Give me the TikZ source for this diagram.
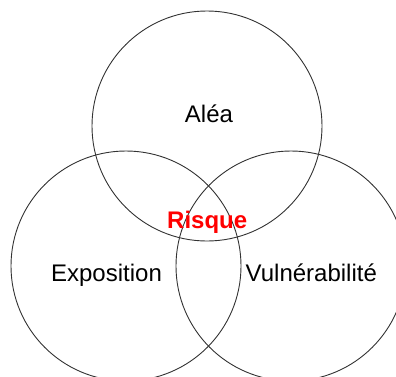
\documentclass[tikz,border=0pt]{standalone}
\usepackage{fontspec}
\setmainfont{Liberation Sans}
\begin{document}
\begin{tikzpicture}[x=1pt,y=-1pt,
  ring/.style={draw=black!80,line width=0.9pt},
  label/.style={anchor=base,inner sep=0pt,font=\fontsize{24}{28}\selectfont},
  core/.style={anchor=base,inner sep=0pt,text=red,font=\fontsize{24}{28}\selectfont\bfseries}]
  \useasboundingbox (0,0) rectangle (396,376);
  \clip (0,0) rectangle (396,376);
  % three overlapping sets
  \draw[ring] (207,126) circle[radius=115];
  \draw[ring] (126,266) circle[radius=115];
  \draw[ring] (291,266) circle[radius=115];
  % set names
  \node[label] (alea) at (209,122.7) {Aléa};
  \node[label] (expo) at (106.5,281.7) {Exposition};
  \node[label] (vuln) at (311.3,281.7) {Vulnérabilité};
  \node[core] (risque) at (207.2,228.3) {Risque};
\end{tikzpicture}
\end{document}
